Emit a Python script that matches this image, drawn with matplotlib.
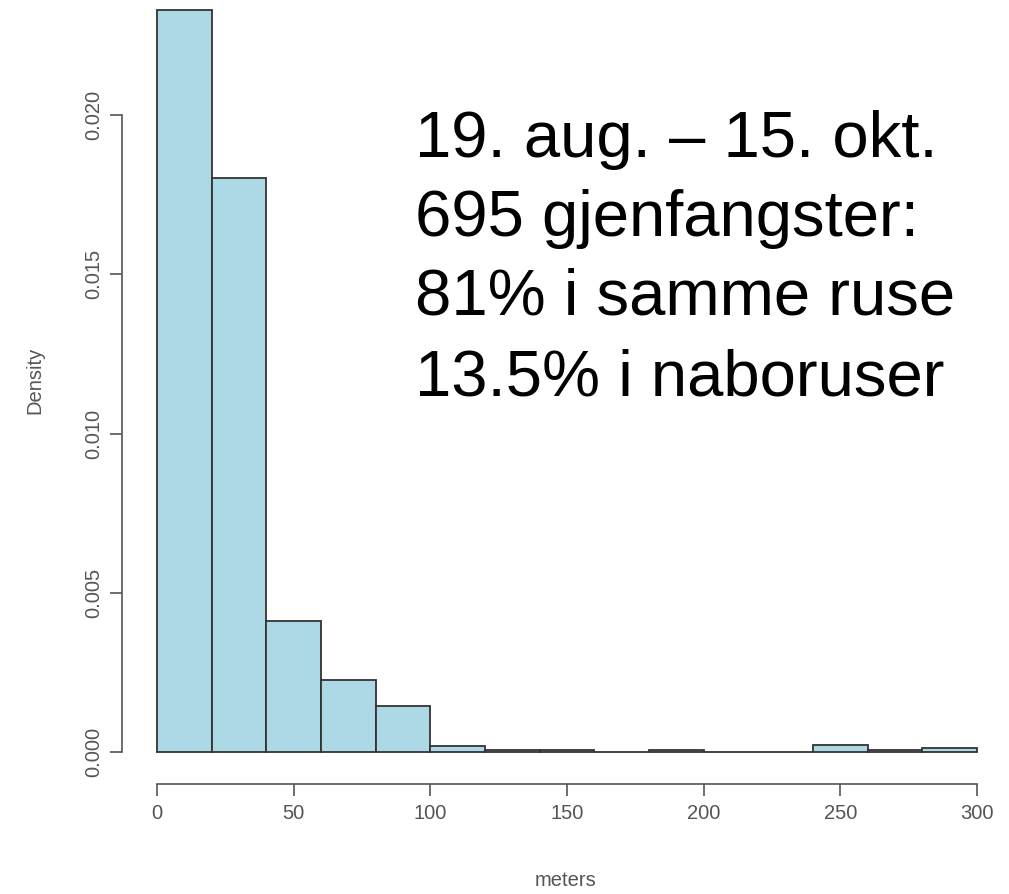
import matplotlib
matplotlib.use("Agg")
import matplotlib.pyplot as plt
import numpy as np

bin_edges = [0, 20, 40, 60, 80, 100, 120, 140, 160, 180, 200, 220, 240, 260, 280, 300]
density = [0.02330, 0.01802, 0.00411, 0.00226, 0.00144, 0.00020, 0.00005, 0.00005,
           0.0, 0.00005, 0.0, 0.0, 0.00022, 0.00005, 0.00012]
x_ticks = [0, 50, 100, 150, 200, 250, 300]
y_ticks = [0.000, 0.005, 0.010, 0.015, 0.020]
y_ticklabels = ["0.000", "0.005", "0.010", "0.015", "0.020"]
annotation = ["19. aug. \u2013 15. okt.", "695 gjenfangster:", "81% i samme ruse", "13.5% i naboruser"]

W, H = 1009, 894
fig = plt.figure(figsize=(W / 100, H / 100), dpi=100)
left, right, bottom, top = 157, 977, 752, 10
ax = fig.add_axes([left / W, (H - bottom) / H, (right - left) / W, (bottom - top) / H])
ax.set_xlim(0, 300)
ax.set_ylim(0, 0.0233)

widths = np.diff(bin_edges)
ax.bar(bin_edges[:-1], density, width=widths, align="edge", color="#ADD8E6",
       edgecolor="#333333", linewidth=1.3, clip_on=False)

px2pt = 0.72
for s in ["top", "right"]:
    ax.spines[s].set_visible(False)
ax.spines["left"].set_position(("outward", 35 * px2pt))
ax.spines["bottom"].set_position(("outward", 32 * px2pt))
ax.spines["left"].set_bounds(0, 0.020)
ax.spines["bottom"].set_bounds(0, 300)
for s in ["left", "bottom"]:
    ax.spines[s].set_color("#555555")
    ax.spines[s].set_linewidth(1.2)

tickfont = dict(family=["Liberation Sans", "DejaVu Sans"], size=14.5, color="#555555")
ax.set_xticks(x_ticks)
ax.set_xticklabels([str(t) for t in x_ticks], **tickfont)
ax.set_yticks(y_ticks)
ax.set_yticklabels(y_ticklabels, rotation=90, va="center", **tickfont)
ax.tick_params(axis="both", length=12 * px2pt, width=1.2, color="#555555")
ax.tick_params(axis="x", pad=8 * px2pt)
ax.tick_params(axis="y", pad=7 * px2pt)

fig.text(566 / W, 1 - 880 / H, "meters", ha="center", va="center", **tickfont)
fig.text(35 / W, 1 - 380 / H, "Density", ha="center", va="center", rotation=90, **tickfont)

ys = [140, 219, 298, 378]
for line, yy in zip(annotation, ys):
    fig.text(415 / W, 1 - yy / H, line, ha="left", va="center",
             family=["Liberation Sans", "DejaVu Sans"], size=47, color="black")

fig.savefig("out.png", dpi=100)
